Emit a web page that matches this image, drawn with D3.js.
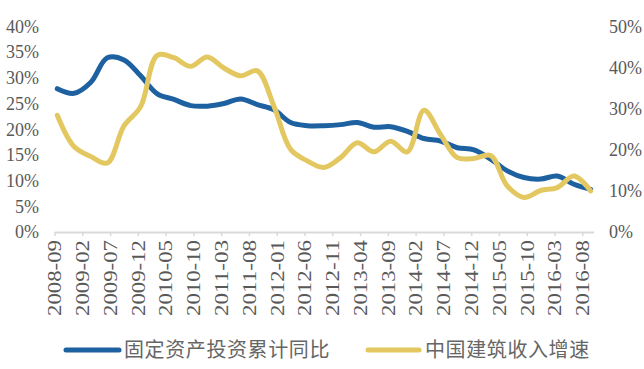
<!DOCTYPE html>
<html><head><meta charset="utf-8">
<script src="https://cdn.jsdelivr.net/npm/d3@7"></script>
<style>
html,body{margin:0;padding:0;background:#fff;}
svg{display:block;}
</style></head>
<body>
<svg id="chart" width="644" height="369"></svg>
<script>
// Quarterly observations, 2008-09 .. 2016-09
const periods = ["2008-09","2008-12","2009-03","2009-06","2009-09","2009-12","2010-03","2010-06","2010-09","2010-12","2011-03","2011-06","2011-09","2011-12","2012-03","2012-06","2012-09","2012-12","2013-03","2013-06","2013-09","2013-12","2014-03","2014-06","2014-09","2014-12","2015-03","2015-06","2015-09","2015-12","2016-03","2016-06","2016-09"];
const fixedInvest = [27.9,27.0,29.1,33.9,33.5,30.4,26.9,25.8,24.6,24.5,25.0,25.9,24.8,23.8,21.3,20.7,20.7,20.9,21.3,20.4,20.5,19.6,18.2,17.7,16.4,16.0,14.2,11.9,10.6,10.3,10.9,9.3,8.3];
const constructRev = [28.4,20.8,18.4,16.8,25.8,30.5,43.0,42.4,40.3,42.6,39.9,38.0,39.2,30.6,20.1,17.3,15.7,18.1,21.7,19.5,22.1,19.5,29.6,23.7,18.1,17.9,18.6,11.2,8.4,10.1,10.8,13.6,10.0];
const xTickLabels = ["2008-09","2009-02","2009-07","2009-12","2010-05","2010-10","2011-03","2011-08","2012-01","2012-06","2012-11","2013-04","2013-09","2014-02","2014-07","2014-12","2015-05","2015-10","2016-03","2016-08"];
const leftTicks = [0,5,10,15,20,25,30,35,40];
const rightTicks = [0,10,20,30,40,50];
const seriesNames = ["固定资产投资累计同比","中国建筑收入增速"];
const colors = ["#1e61a0","#e3c862"];

const startYear = 2008, startMonth = 9;
function monthIndex(s){const [y,m]=s.split("-").map(Number);return (y-startYear)*12+(m-startMonth);}
const nCats = 97;

const svg = d3.select("#chart");
const x = d3.scaleLinear().domain([0,nCats]).range([54.5,593.4]);
const yL = d3.scaleLinear().domain([0,40]).range([232,26.5]);
const yR = d3.scaleLinear().domain([0,50]).range([232,26.5]);

const numFont = "'Liberation Serif','Times New Roman',serif";
const textColor = "#595959";

// left axis labels
const gL = svg.append("g").attr("transform","translate(39,0)")
  .call(d3.axisLeft(yL).tickValues(leftTicks).tickSize(0).tickPadding(0).tickFormat(d=>d+"%"));
gL.select(".domain").remove();
gL.selectAll("text").attr("font-family",numFont).attr("font-size",18).attr("fill",textColor);

// right axis labels
const gR = svg.append("g").attr("transform","translate(609,0)")
  .call(d3.axisRight(yR).tickValues(rightTicks).tickSize(0).tickPadding(0).tickFormat(d=>d+"%"));
gR.select(".domain").remove();
gR.selectAll("text").attr("font-family",numFont).attr("font-size",18).attr("fill",textColor);

// x axis
const tickPos = xTickLabels.map(monthIndex);
const gX = svg.append("g").attr("transform","translate(0,232)")
  .call(d3.axisBottom(x).tickValues(tickPos).tickSize(4).tickSizeOuter(0).tickFormat((d,i)=>xTickLabels[i]));
gX.select(".domain").attr("stroke","#d9d9d9").attr("stroke-width",2);
gX.selectAll(".tick line").attr("stroke","#d9d9d9").attr("stroke-width",1.5);
gX.selectAll(".tick text")
  .attr("font-family",numFont).attr("font-size",18).attr("fill",textColor)
  .attr("text-anchor","end").attr("dy","0.35em")
  .attr("transform","translate(0,8) rotate(-90)")
  .attr("x",0).attr("y",0)
  .attr("textLength",76).attr("lengthAdjust","spacingAndGlyphs");

// lines
const pts = s => periods.map((p,i)=>({b:monthIndex(p)+0.5, v:s[i]}));
const lineL = d3.line().x(d=>x(d.b)).y(d=>yL(d.v)).curve(d3.curveCatmullRom.alpha(0.5));
const lineR = d3.line().x(d=>x(d.b)).y(d=>yR(d.v)).curve(d3.curveCatmullRom.alpha(0.5));
svg.append("path").attr("d",lineL(pts(fixedInvest))).attr("fill","none")
  .attr("stroke",colors[0]).attr("stroke-width",5).attr("stroke-linecap","round").attr("stroke-linejoin","round");
svg.append("path").attr("d",lineR(pts(constructRev))).attr("fill","none")
  .attr("stroke",colors[1]).attr("stroke-width",5).attr("stroke-linecap","round").attr("stroke-linejoin","round");

// legend
const legendItems = [{x1:66,x2:119,tx:124},{x1:368,x2:419,tx:425}];
legendItems.forEach((it,i)=>{
  svg.append("line").attr("x1",it.x1).attr("x2",it.x2).attr("y1",350).attr("y2",350)
    .attr("stroke",colors[i]).attr("stroke-width",5).attr("stroke-linecap","round");
  svg.append("text").attr("x",it.tx).attr("y",350).attr("dy","0.36em")
    .attr("font-family","'Noto Sans CJK SC',sans-serif").attr("font-size",20)
    .attr("letter-spacing",0.6)
    .attr("fill","#666666").text(seriesNames[i]);
});
</script>
</body></html>
